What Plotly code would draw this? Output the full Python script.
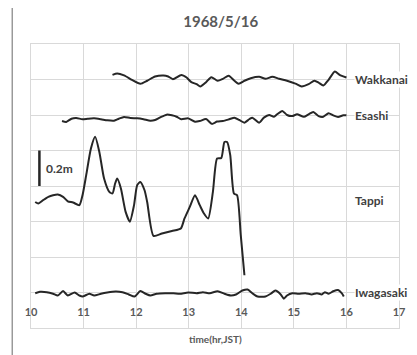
import plotly.graph_objects as go

# ---- data (time in hours JST, anomaly in metres) ----
wakkanai_t = [11.55, 11.64, 11.77, 11.92, 12.08, 12.21, 12.36, 12.52, 12.61, 12.70, 12.86, 12.96,
              13.05, 13.15, 13.22, 13.33, 13.43, 13.55, 13.65, 13.76, 13.87, 13.95, 14.06, 14.18,
              14.34, 14.46, 14.59, 14.72, 14.87, 15.03, 15.15, 15.28, 15.39, 15.47, 15.56, 15.66,
              15.78, 15.87, 16.00]
wakkanai_v = [0.026, 0.034, 0.023, -0.002, -0.024, -0.007, 0.017, 0.023, 0.017, 0.002, 0.026, 0.011,
              -0.015, -0.026, -0.039, -0.015, 0.013, -0.007, 0.004, 0.021, -0.007, -0.024, -0.007, 0.007,
              0.015, 0.004, 0.015, 0.004, -0.007, -0.023, -0.039, -0.026, -0.007, -0.017, -0.034, -0.002,
              0.045, 0.026, 0.011]

esashi_t = [10.59, 10.67, 10.77, 10.86, 10.98, 11.08, 11.20, 11.33, 11.45, 11.58, 11.67, 11.77,
            11.89, 12.02, 12.14, 12.27, 12.36, 12.46, 12.58, 12.68, 12.77, 12.86, 12.99, 13.12,
            13.21, 13.33, 13.44, 13.54, 13.65, 13.77, 13.87, 13.96, 14.06, 14.15, 14.21, 14.34,
            14.43, 14.53, 14.62, 14.68, 14.78, 14.87, 14.97, 15.06, 15.19, 15.28, 15.37, 15.47,
            15.56, 15.66, 15.75, 15.84, 15.94, 16.00]
esashi_v = [-0.034, -0.039, -0.021, -0.017, -0.024, -0.021, -0.019, -0.024, -0.030, -0.032, -0.021, -0.011,
            -0.017, -0.019, -0.024, -0.032, -0.028, -0.013, 0.002, -0.002, -0.010, -0.024, -0.019, -0.038,
            -0.034, -0.023, -0.050, -0.037, -0.034, -0.024, -0.015, -0.028, -0.043, -0.024, -0.015, -0.043,
            -0.015, 0.000, -0.010, 0.004, 0.023, 0.000, -0.006, 0.004, -0.010, 0.004, 0.017, -0.006,
            -0.010, 0.010, -0.002, -0.011, -0.002, -0.002]

tappi_t = [10.08, 10.14, 10.23, 10.33, 10.42, 10.51, 10.61, 10.70, 10.80, 10.92, 10.98, 11.05,
           11.14, 11.22, 11.30, 11.39, 11.49, 11.55, 11.60, 11.64, 11.71, 11.80, 11.88, 11.96,
           12.02, 12.08, 12.16, 12.21, 12.33, 12.49, 12.68, 12.85, 12.92, 13.02, 13.12, 13.21,
           13.29, 13.37, 13.46, 13.54, 13.62, 13.68, 13.73, 13.79, 13.86, 13.92, 13.99, 14.06]
tappi_v = [-0.010, -0.019, 0.000, 0.019, 0.028, 0.032, 0.019, -0.006, -0.013, -0.028, 0.028, 0.141,
           0.291, 0.357, 0.272, 0.122, 0.047, 0.038, 0.094, 0.122, 0.066, -0.066, -0.121, -0.028,
           0.085, 0.103, 0.056, -0.010, -0.201, -0.188, -0.173, -0.159, -0.103, -0.038, 0.028, -0.028,
           -0.075, -0.103, 0.047, 0.235, 0.238, 0.328, 0.328, 0.254, 0.038, 0.028, -0.197, -0.423]

iwagasaki_t = [10.08, 10.17, 10.30, 10.42, 10.51, 10.61, 10.70, 10.83, 10.92, 10.98, 11.11, 11.20,
               11.33, 11.45, 11.61, 11.74, 11.86, 11.97, 12.08, 12.18, 12.27, 12.39, 12.55, 12.71,
               12.83, 12.99, 13.15, 13.27, 13.40, 13.55, 13.68, 13.80, 13.90, 14.02, 14.12, 14.21,
               14.31, 14.46, 14.56, 14.65, 14.75, 14.81, 14.87, 14.97, 15.09, 15.22, 15.34, 15.44,
               15.53, 15.59, 15.66, 15.75, 15.84, 15.91, 15.95]
iwagasaki_v = [-0.004, 0.004, 0.002, -0.007, -0.017, 0.008, -0.017, 0.000, -0.017, -0.023, -0.007, -0.017,
               -0.007, 0.000, 0.006, 0.002, -0.011, -0.023, 0.008, -0.007, -0.017, -0.007, -0.004, -0.004,
               -0.007, 0.000, -0.004, 0.002, -0.004, 0.007, -0.007, -0.017, -0.011, 0.011, 0.017, -0.004,
               -0.023, -0.023, -0.007, 0.011, -0.011, -0.035, -0.017, -0.004, -0.007, -0.004, -0.011, -0.004,
               -0.011, 0.002, -0.007, 0.007, 0.014, -0.004, -0.023]

stations = ["Wakkanai", "Esashi", "Tappi", "Iwagasaki"]
offsets = [1.2, 1.0, 0.52, 0.0]          # display offset of each trace (m)
x_ticks = [10, 11, 12, 13, 14, 15, 16, 17]
title_text = "1968/5/16"
x_title = "time(hr,JST)"
scale_bar_m = 0.2
scale_bar_base = 0.6

series_t = [wakkanai_t, esashi_t, tappi_t, iwagasaki_t]
series_v = [wakkanai_v, esashi_v, tappi_v, iwagasaki_v]

LINE = "#262626"
GREY = "#595959"
GRID = "#d9d9d9"
FONT = "Lato"

fig = go.Figure()
for name, t, v, off in zip(stations, series_t, series_v, offsets):
    fig.add_trace(go.Scatter(
        x=t, y=[off + val for val in v], mode="lines", name=name,
        line=dict(color=LINE, width=2, shape="spline", smoothing=0.6),
        showlegend=False, hoverinfo="skip"))

# station labels
for name, off in zip(stations, offsets):
    fig.add_annotation(x=16.15, y=off, xref="x", yref="y", text="<b>%s</b>" % name,
                       showarrow=False, xanchor="left", yanchor="middle",
                       bgcolor="white", borderpad=0,
                       font=dict(family=FONT, size=12, color="#404040"))

# scale bar
fig.add_shape(type="line", xref="x", yref="y", x0=10.16, x1=10.16,
              y0=scale_bar_base, y1=scale_bar_base + scale_bar_m,
              line=dict(color=LINE, width=2.5))
fig.add_annotation(x=10.24, y=scale_bar_base + scale_bar_m / 2, xref="x", yref="y",
                   text="<b>%gm</b>" % scale_bar_m, showarrow=False, xanchor="left",
                   yanchor="middle", font=dict(family=FONT, size=12, color="#404040"))

# x-axis title
fig.add_annotation(x=13.5, y=-0.04, xref="x", yref="paper", text="<b>%s</b>" % x_title,
                   showarrow=False, xanchor="center", yanchor="middle",
                   font=dict(family=FONT, size=10, color=GREY))

# outer chart frame
fig.add_shape(type="rect", xref="paper", yref="paper", x0=-0.051, x1=1.3, y0=-0.5, y1=1.146,
              line=dict(color="#8c8c8c", width=1.3), fillcolor="rgba(0,0,0,0)", layer="below")

fig.update_layout(
    width=409, height=347,
    margin=dict(l=23, r=14, t=36, b=27),
    paper_bgcolor="white", plot_bgcolor="white",
    title=dict(text="<b>%s</b>" % title_text, x=0.52, xanchor="center", y=0.96, yanchor="middle",
               font=dict(family=FONT, size=15, color=GREY)),
    xaxis=dict(range=[10, 17], tickvals=x_ticks, ticktext=[str(v) for v in x_ticks],
               showgrid=True, gridcolor=GRID, gridwidth=1, zeroline=False,
               showline=True, linecolor=GRID, linewidth=1, mirror=True,
               ticks="", ticklabelposition="inside",
               ticklabelstandoff=9, ticklabeloverflow="allow",
               tickfont=dict(family=FONT, size=11, color=GREY, weight="bold")),
    yaxis=dict(range=[-0.2, 1.4], dtick=0.2, showgrid=True, gridcolor=GRID,
               gridwidth=1, zeroline=False, showticklabels=False,
               showline=True, linecolor=GRID, linewidth=1, mirror=True, ticks=""),
)

fig.write_html("out.html")
